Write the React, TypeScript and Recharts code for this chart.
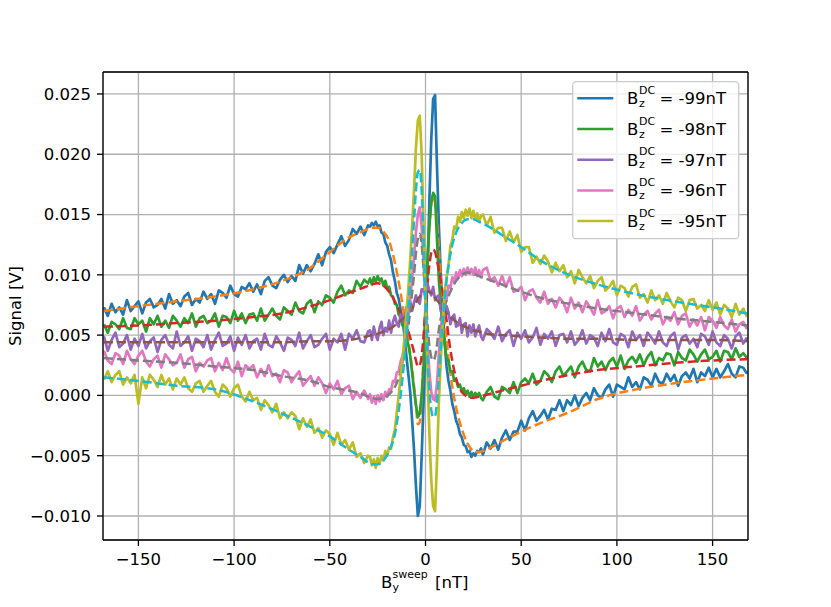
import { LineChart, Line, XAxis, YAxis, CartesianGrid, Legend, ReferenceLine } from 'recharts';

const FONT = '"DejaVu Sans", sans-serif';

// sweep field (nT) of the measured traces
const SWEEP_NT = [
  -168, -166, -164, -162, -160, -158, -156, -154, -152, -150,
  -148, -146, -144, -142, -140, -138, -136, -134, -132, -130,
  -128, -126, -124, -122, -120, -118, -116, -114, -112, -110,
  -108, -106, -104, -102, -100, -98, -96, -94, -92, -90,
  -88, -86, -84, -82, -80, -78, -76, -74, -72, -70,
  -68, -66, -64, -62, -60, -58, -56, -54, -52, -50,
  -48, -46, -44, -42, -40, -38, -36, -34, -32, -30,
  -29, -28, -27, -26, -25, -24, -23, -22, -21, -20,
  -19, -18, -17, -16, -15, -14, -13, -12, -11, -10,
  -9, -8, -7, -6, -5, -4, -3, -2, -1, 0,
  1, 2, 3, 4, 5, 6, 7, 8, 9, 10,
  11, 12, 13, 14, 15, 16, 17, 18, 19, 20,
  21, 22, 23, 24, 25, 26, 27, 28, 29,
  30, 32, 34, 36, 38, 40, 42, 44, 46, 48,
  50, 52, 54, 56, 58, 60, 62, 64, 66, 68,
  70, 72, 74, 76, 78, 80, 82, 84, 86, 88,
  90, 92, 94, 96, 98, 100, 102, 104, 106, 108,
  110, 112, 114, 116, 118, 120, 122, 124, 126, 128,
  130, 132, 134, 136, 138, 140, 142, 144, 146, 148,
  150, 152, 154, 156, 158, 160, 162, 164, 166, 168,
];

// measured signal, units of 1e-4 V
const SIG_99 = [
  73, 66, 76, 69, 73, 67, 79, 70, 74, 78, 68, 77, 80, 73, 75, 80, 72, 84, 76, 79,
  74, 82, 85, 75, 80, 77, 86, 80, 84, 76, 87, 85, 81, 91, 84, 82, 90, 88, 93, 86,
  92, 84, 95, 98, 91, 89, 96, 100, 94, 99, 95, 108, 101, 108, 103, 109, 117, 108, 119, 123,
  118, 125, 132, 124, 129, 138, 134, 140, 133, 141,
  140, 143, 141, 144, 140, 141, 135, 134, 127, 124, 117, 112, 102, 95, 85, 80, 71, 63, 50, 33,
  18, 3, -20, -45, -75, -100, -92, -50, -5, 45, 100, 160, 212, 246, 249, 190, 140, 100, 72, 45,
  24, 12, 4, -7, -13, -21, -25, -32, -35, -41, -42, -47, -46, -51, -48, -50, -46, -47, -44,
  -49, -39, -44, -37, -45, -35, -29, -37, -30, -30, -21, -29, -19, -13, -21, -17, -12, -20, -11, -12,
  -4, -13, -4, -8, 0, -9, -2, 2, -4, 6, 0, -2, 5, 9, -1, 9, 7, 5, 15, 7,
  11, 5, 15, 13, 8, 18, 11, 10, 18, 12, 17, 8, 16, 19, 14, 22, 11, 19, 16, 23,
  15, 22, 15, 20, 26, 18, 15, 24, 23, 18,
];
const SIG_98 = [
  59, 52, 61, 59, 55, 64, 56, 55, 64, 59, 62, 53, 64, 59, 66, 57, 62, 56, 66, 62,
  57, 64, 60, 68, 57, 64, 66, 60, 62, 68, 57, 66, 65, 60, 70, 62, 68, 60, 67, 68,
  62, 72, 62, 67, 72, 66, 63, 73, 70, 67, 77, 70, 68, 76, 79, 69, 78, 75, 83, 81,
  77, 86, 91, 83, 87, 85, 95, 90, 96, 93,
  97, 92, 98, 94, 99, 95, 97, 91, 95, 89, 90, 83, 82, 76, 75, 67, 65, 58, 56, 49,
  42, 33, 19, 5, -8, -18, -15, 0, 25, 75, 110, 140, 160, 168, 165, 130, 95, 76, 54, 43,
  31, 29, 20, 20, 12, 13, 7, 9, 3, 6, 1, 4, -1, 3, -2, 2, -1, 2, -2,
  -4, 3, 7, -1, -3, 7, 5, 2, 11, 2, 11, 14, 10, 18, 9, 12, 20, 17, 11, 20,
  24, 16, 20, 24, 15, 24, 28, 21, 20, 31, 24, 28, 21, 28, 31, 24, 33, 22, 29, 32,
  27, 34, 25, 32, 36, 25, 31, 29, 35, 34, 25, 36, 31, 29, 38, 34, 28, 34, 38, 30,
  32, 37, 28, 37, 36, 30, 39, 32, 35, 31,
];
const SIG_97 = [
  49, 37, 46, 52, 40, 43, 50, 38, 47, 41, 51, 39, 45, 48, 36, 46, 50, 42, 39, 53,
  41, 44, 49, 37, 47, 45, 40, 50, 38, 46, 52, 41, 43, 49, 37, 48, 42, 50, 39, 45,
  47, 38, 51, 42, 40, 49, 44, 37, 48, 46, 41, 52, 39, 45, 50, 40, 42, 47, 51, 38,
  47, 44, 51, 38, 51, 47, 54, 45, 44, 53,
  54, 46, 57, 50, 46, 56, 61, 50, 56, 53, 62, 52, 61, 66, 60, 57, 67, 66, 60, 73,
  67, 78, 70, 77, 83, 78, 76, 88, 88, 81, 93, 87, 83, 90, 79, 82, 83, 70, 72, 66,
  74, 69, 59, 65, 67, 57, 58, 64, 52, 59, 60, 49, 58, 52, 59, 49, 54, 58, 49,
  46, 55, 52, 47, 57, 45, 51, 54, 41, 52, 47, 54, 44, 48, 56, 42, 51, 47, 53, 41,
  50, 51, 44, 53, 42, 46, 54, 43, 50, 48, 41, 52, 45, 55, 44, 42, 51, 49, 40, 53,
  46, 50, 41, 52, 48, 43, 53, 44, 41, 49, 52, 38, 48, 50, 43, 47, 40, 51, 49, 42,
  53, 44, 41, 50, 47, 39, 49, 52, 43, 48,
];
const SIG_96 = [
  37, 29, 26, 35, 33, 26, 37, 30, 26, 33, 37, 28, 24, 30, 33, 23, 34, 30, 25, 27,
  34, 23, 30, 32, 20, 27, 24, 29, 31, 20, 27, 21, 31, 22, 19, 28, 16, 25, 22, 25,
  15, 22, 16, 25, 16, 18, 11, 21, 19, 11, 16, 20, 8, 12, 16, 8, 15, 10, 2, 10,
  5, 12, 1, 6, 8, -3, 3, -2, 4, -3,
  1, -6, -1, -7, 0, -5, 1, -4, 3, -1, 5, 4, 12, 11, 19, 20, 28, 33, 40, 52,
  65, 80, 97, 115, 135, 150, 156, 140, 110, 75, 45, 20, 3, -3, -4, 10, 35, 56, 67, 77,
  80, 91, 89, 98, 94, 102, 97, 104, 99, 105, 100, 106, 101, 105, 100, 106, 99, 104, 98,
  104, 106, 95, 98, 91, 99, 90, 98, 86, 87, 90, 79, 86, 88, 81, 77, 86, 76, 80, 73,
  81, 77, 69, 81, 72, 77, 69, 78, 73, 67, 79, 68, 70, 74, 64, 72, 74, 65, 71, 66,
  74, 62, 67, 70, 63, 68, 71, 59, 65, 62, 69, 59, 66, 68, 57, 63, 58, 65, 54, 65,
  62, 56, 65, 58, 55, 63, 53, 59, 61, 55,
];
const SIG_95 = [
  13, 20, 11, 17, 20, 9, 15, 10, 17, -7, 15, 6, 17, 13, 7, 17, 9, 14, 5, 14,
  9, 15, 6, 3, 10, 12, 3, 8, 12, 3, -1, 9, 6, -1, 6, 9, -1, -5, 3, -4,
  -2, -12, -4, -8, -14, -7, -19, -14, -19, -14, -17, -28, -19, -26, -20, -31, -27, -35, -29, -32,
  -41, -31, -41, -37, -45, -39, -51, -48, -56, -50,
  -51, -58, -53, -60, -52, -57, -50, -54, -46, -50, -43, -44, -35, -28, -14, 0, 15, 30, 47, 68,
  88, 112, 140, 170, 205, 228, 232, 200, 140, 80, 20, -30, -70, -92, -96, -55, -5, 30, 60, 85,
  98, 108, 124, 129, 140, 138, 148, 144, 152, 147, 154, 149, 155, 147, 153, 146, 151, 144, 149,
  150, 141, 148, 135, 139, 139, 128, 136, 127, 133, 119, 123, 123, 110, 115, 109, 116, 111, 102, 110,
  103, 108, 98, 103, 93, 104, 98, 93, 99, 89, 95, 98, 87, 90, 95, 83, 91, 89, 82, 90,
  92, 81, 84, 77, 87, 79, 83, 76, 85, 78, 73, 81, 79, 70, 79, 80, 72, 75, 70, 79,
  71, 77, 67, 75, 72, 65, 76, 67, 72, 65,
];

// fitted curves, units of 1e-4 V
const FIT_NT = [
  -168, -150, -130, -110, -90, -75, -60, -50, -40, -33,
  -28, -25, -22, -19, -16, -13, -10, -8, -7, -6,
  -5, -4, -3, -2, -1, 0, 1, 2, 3, 4,
  5, 6, 7, 8, 10, 13, 16, 19, 22, 25,
  28, 33, 40, 50, 60, 75, 90, 110, 130, 150,
  168,
];
const FIT_99 = [
  70, 74, 78, 82, 88, 95, 106, 119, 131, 136, 139, 139, 136, 128, 110, 85, 55, 35, 22, 8,
  -8, -24, -22, 0, 35, 75, 112, 140, 158, 165, 160, 145, 122, 98, 62, 18, -10, -28, -40, -46,
  -47, -44, -38, -30, -23, -14, -3, 5, 10, 14, 17,
];
const FIT_98 = [
  57, 58, 60, 62, 65, 68, 74, 79, 85, 89, 92, 93, 91, 86, 78, 68, 58, 48, 42, 36,
  29, 24, 25, 33, 50, 72, 92, 108, 118, 121, 119, 112, 104, 95, 75, 38, 14, 3, -1, -2,
  -1, 1, 4, 8, 12, 17, 21, 24, 27, 29, 30,
];
const FIT_97 = [
  44, 44, 44, 44, 44, 44, 45, 45, 46, 48, 50, 51, 53, 55, 58, 62, 66, 70, 72, 75,
  77, 80, 82, 84, 85, 86, 86, 86, 85, 83, 81, 79, 77, 74, 70, 65, 61, 58, 56, 54,
  53, 51, 50, 49, 48, 47, 47, 46, 46, 46, 45,
];
const FIT_96 = [
  31, 29, 27, 24, 21, 16, 12, 7, 4, 1, -2, -3, -2, 1, 7, 20, 45, 70, 85, 100,
  118, 130, 134, 125, 105, 82, 60, 42, 32, 29, 32, 42, 55, 64, 74, 86, 95, 100, 102, 101,
  99, 96, 92, 86, 81, 76, 72, 68, 64, 61, 58,
];
const FIT_95 = [
  15, 12, 8, 5, -5, -15, -26, -34, -45, -52, -57, -57, -54, -46, -32, 0, 50, 95, 120, 145,
  170, 185, 187, 170, 130, 80, 35, 5, -12, -18, -17, -5, 15, 40, 80, 117, 135, 143, 146, 146,
  144, 140, 133, 123, 112, 100, 92, 84, 78, 73, 68,
];

const SERIES = ['-99nT', '-98nT', '-97nT', '-96nT', '-95nT'];
const DATA_COLORS = ['#1f77b4', '#2ca02c', '#9467bd', '#e377c2', '#bcbd22'];
const FIT_COLORS = ['#ff7f0e', '#d62728', '#8c564b', '#7f7f7f', '#17becf'];

const X_TICKS = [-150, -100, -50, 0, 50, 100, 150];
const Y_TICKS = [-0.01, -0.005, 0, 0.005, 0.01, 0.015, 0.02, 0.025];
const X_DOMAIN: [number, number] = [-168.5, 168.5];
const Y_DOMAIN: [number, number] = [-0.01199, 0.02682];

const SCALE = 1e-4;
const SIGNALS = [SIG_99, SIG_98, SIG_97, SIG_96, SIG_95];
const FITS = [FIT_99, FIT_98, FIT_97, FIT_96, FIT_95];

const dataRows = SWEEP_NT.map((x, i) => {
  const row: Record<string, number> = { x };
  SIGNALS.forEach((s, k) => { row[`d${k}`] = s[i] * SCALE; });
  return row;
});
const fitRows = FIT_NT.map((x, i) => {
  const row: Record<string, number> = { x };
  FITS.forEach((s, k) => { row[`f${k}`] = s[i] * SCALE; });
  return row;
});

const minus = (s: string) => s.replace('-', '\u2212');
const fmtX = (v: number) => minus(String(v));
const fmtY = (v: number) => minus(v.toFixed(3));

const TICK = { fontSize: 16.5, fill: '#000', fontFamily: FONT };
const AXIS_LINE = { stroke: '#000', strokeWidth: 1.3 };

// B_y^sweep [nT], sub/superscript stacked as in mathtext
function XTitle() {
  return (
    <text fontFamily={FONT} fill="#000" fontSize={16.5}>
      <tspan x={381} y={588}>B</tspan>
      <tspan x={392.5} y={577.5} fontSize={11}>sweep</tspan>
      <tspan x={392.5} y={591} fontSize={11}>y</tspan>
      <tspan x={435} y={588}>[nT]</tspan>
    </text>
  );
}

function YTitle() {
  return (
    <text transform="translate(20.5,306) rotate(-90)" textAnchor="middle"
      fontSize={16.5} fontFamily={FONT} fill="#000">
      Signal [V]
    </text>
  );
}

function LegendBox() {
  return (
    <svg width={168} height={159} style={{ display: 'block', fontFamily: FONT }}>
      <rect x={0.7} y={0.7} width={166} height={157} rx={3.5}
        fill="#fff" fillOpacity={0.8} stroke="#cccccc" strokeWidth={1.3} />
      {SERIES.map((name, i) => {
        const y = 17.3 + i * 30.7;
        return (
          <g key={name}>
            <line x1={5.3} x2={41.3} y1={y} y2={y} stroke={DATA_COLORS[i]} strokeWidth={2.5} />
            <text fill="#000" fontSize={16.5}>
              <tspan x={55} y={y + 6}>B</tspan>
              <tspan x={67} y={y - 4.5} fontSize={11}>DC</tspan>
              <tspan x={67} y={y + 8.5} fontSize={11}>z</tspan>
              <tspan x={87.5} y={y + 6}>= {name}</tspan>
            </text>
          </g>
        );
      })}
    </svg>
  );
}

export default function App() {
  return (
    <div style={{ position: 'absolute', left: 0, top: 0, width: 831, height: 607, background: '#fff' }}>
      <LineChart width={831} height={607} margin={{ top: 72, right: 83, bottom: 0, left: 0 }}
        style={{ fontFamily: FONT }}>
        <CartesianGrid stroke="#b0b0b0" strokeWidth={1.3} />
        <XAxis type="number" dataKey="x" domain={X_DOMAIN} ticks={X_TICKS} allowDataOverflow
          height={67} tickSize={6} tickMargin={7} tick={TICK} tickLine={AXIS_LINE} axisLine={AXIS_LINE}
          tickFormatter={fmtX} label={<XTitle />} />
        <YAxis type="number" domain={Y_DOMAIN} ticks={Y_TICKS} allowDataOverflow
          width={103} tickSize={6} tickMargin={6} tick={TICK} tickLine={AXIS_LINE} axisLine={AXIS_LINE}
          tickFormatter={fmtY} label={<YTitle />} />
        {SERIES.map((name, k) => [
          <Line key={`d${k}`} data={dataRows} dataKey={`d${k}`} name={name} type="linear"
            stroke={DATA_COLORS[k]} strokeWidth={2.7} strokeLinejoin="round" dot={false}
            activeDot={false} isAnimationActive={false} />,
          <Line key={`f${k}`} data={fitRows} dataKey={`f${k}`} type="monotone" legendType="none"
            stroke={FIT_COLORS[k]} strokeWidth={2.5} strokeDasharray="9 4" dot={false}
            activeDot={false} isAnimationActive={false} />,
        ])}
        <ReferenceLine y={Y_DOMAIN[1]} stroke="#000" strokeWidth={1.3} ifOverflow="visible" />
        <ReferenceLine x={X_DOMAIN[1]} stroke="#000" strokeWidth={1.3} ifOverflow="visible" />
        <Legend layout="vertical" align="center" verticalAlign="middle" content={<LegendBox />}
          wrapperStyle={{ left: 572, top: 81, width: 168, height: 159 }} />
      </LineChart>
    </div>
  );
}
